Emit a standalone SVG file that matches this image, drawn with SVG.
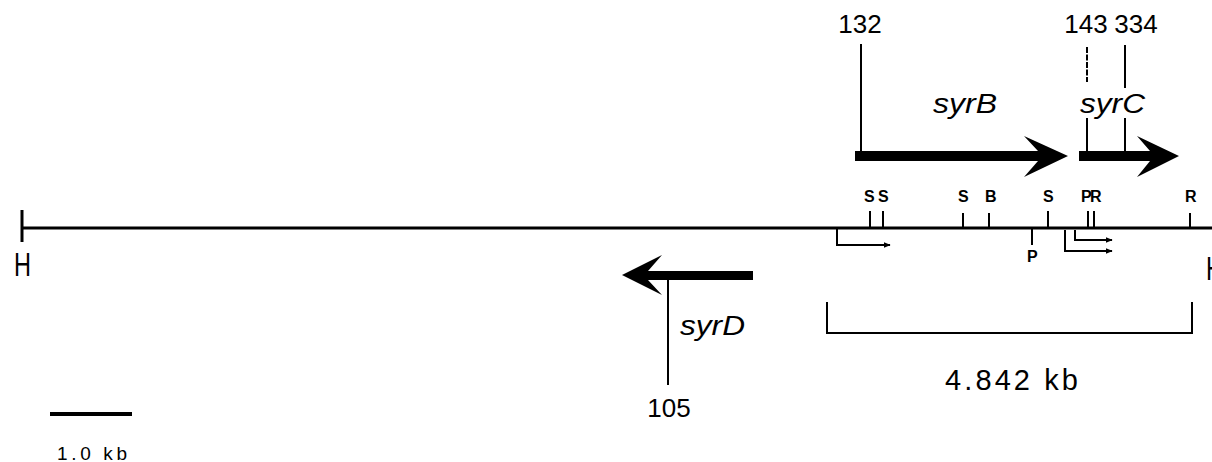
<svg xmlns="http://www.w3.org/2000/svg" width="1212" height="462" viewBox="0 0 1212 462">
  <defs>
    <style>
      .t { font-family: "Liberation Sans", Arial, sans-serif; fill: #000; }
      .num { font-size: 26px; }
      .gene { font-size: 27px; font-style: italic; }
      .site { font-size: 16px; font-weight: bold; }
      .ln { stroke: #000; stroke-width: 2; fill: none; }
      .thick { stroke: #000; stroke-width: 3; fill: none; }
      .gbar { fill: #000; }
    </style>
    <marker id="ah" viewBox="0 0 10 10" refX="9" refY="5" markerWidth="7" markerHeight="7" orient="auto" markerUnits="userSpaceOnUse">
      <path d="M0,1 L10,5 L0,9 Z" fill="#000"/>
    </marker>
  </defs>

  <rect width="1212" height="462" fill="#fff"/>

  <!-- main map line with H ends -->
  <g id="map">
    <line class="thick" x1="22" y1="228" x2="1212" y2="228"/>
    <line class="thick" x1="22" y1="210" x2="22" y2="242"/>
    <text class="t" x="14" y="276" font-size="33" textLength="17" lengthAdjust="spacingAndGlyphs">H</text>
    <text class="t" x="1206" y="280" font-size="33" textLength="17" lengthAdjust="spacingAndGlyphs">H</text>
  </g>

  <!-- restriction sites -->
  <g id="sites">
    <line class="ln" x1="870" y1="211" x2="870" y2="228"/>
    <line class="ln" x1="883" y1="211" x2="883" y2="228"/>
    <line class="ln" x1="963" y1="213" x2="963" y2="228"/>
    <line class="ln" x1="989" y1="213" x2="989" y2="228"/>
    <line class="ln" x1="1048" y1="211" x2="1048" y2="228"/>
    <line class="ln" x1="1088" y1="211" x2="1088" y2="228"/>
    <line class="ln" x1="1094" y1="211" x2="1094" y2="228"/>
    <line class="ln" x1="1190" y1="213" x2="1190" y2="228"/>
    <line class="ln" x1="1032" y1="228" x2="1032" y2="245"/>
    <text class="t site" x="864" y="202">S</text>
    <text class="t site" x="878" y="202">S</text>
    <text class="t site" x="958" y="202">S</text>
    <text class="t site" x="985" y="202">B</text>
    <text class="t site" x="1043" y="202">S</text>
    <text class="t site" x="1081" y="202">P</text>
    <text class="t site" x="1090" y="202">R</text>
    <text class="t site" x="1185" y="202">R</text>
    <text class="t site" x="1027" y="262">P</text>
  </g>

  <!-- promoters -->
  <g id="promoters">
    <polyline class="ln" points="837,228 837,245 890,245" marker-end="url(#ah)"/>
    <polyline class="ln" points="1065,230 1065,251 1112,251" marker-end="url(#ah)"/>
    <polyline class="ln" points="1075,230 1075,240 1112,240" marker-end="url(#ah)"/>
  </g>

  <!-- syrB -->
  <g id="syrB">
    <line class="ln" x1="861" y1="44" x2="861" y2="156"/>
    <path class="gbar" d="M855,151 L1038,151 L1024,136 L1068,156 L1024,177 L1038,161 L855,161 Z"/>
    <text class="t num" x="860" y="33" text-anchor="middle">132</text>
    <text class="t gene" x="933" y="113" textLength="64" lengthAdjust="spacingAndGlyphs">syrB</text>
  </g>

  <!-- syrC -->
  <g id="syrC">
    <line class="ln" x1="1087" y1="47" x2="1087" y2="82" stroke-dasharray="6,1.5"/>
    <line class="ln" x1="1125" y1="45" x2="1125" y2="88"/>
    <line class="ln" x1="1087" y1="118" x2="1087" y2="156"/>
    <line class="ln" x1="1125" y1="118" x2="1125" y2="156"/>
    <path class="gbar" d="M1079,151 L1150,151 L1137,136 L1179,156 L1137,177 L1150,161 L1079,161 Z"/>
    <text class="t num" x="1086" y="33" text-anchor="middle">143</text>
    <text class="t num" x="1136" y="33" text-anchor="middle">334</text>
    <text class="t gene" x="1080" y="113" textLength="65" lengthAdjust="spacingAndGlyphs">syrC</text>
  </g>

  <!-- syrD -->
  <g id="syrD">
    <path class="gbar" d="M753,271 L648,271 L662,255 L622,275 L662,295 L648,280 L753,280 Z"/>
    <line class="ln" x1="668" y1="275" x2="668" y2="385"/>
    <text class="t gene" x="680" y="335" textLength="65" lengthAdjust="spacingAndGlyphs">syrD</text>
    <text class="t num" x="669" y="417" text-anchor="middle">105</text>
  </g>

  <!-- 4.842 kb span -->
  <g id="span">
    <polyline class="ln" points="827,302 827,333 1192,333 1192,302"/>
    <text class="t" x="945" y="390" font-size="29" textLength="133" lengthAdjust="spacing">4.842 kb</text>
  </g>

  <!-- scale bar -->
  <g id="scale">
    <line x1="50" y1="414" x2="132" y2="414" stroke="#000" stroke-width="4"/>
    <text class="t" x="57" y="460" font-size="19" textLength="70" lengthAdjust="spacing">1.0 kb</text>
  </g>
</svg>
